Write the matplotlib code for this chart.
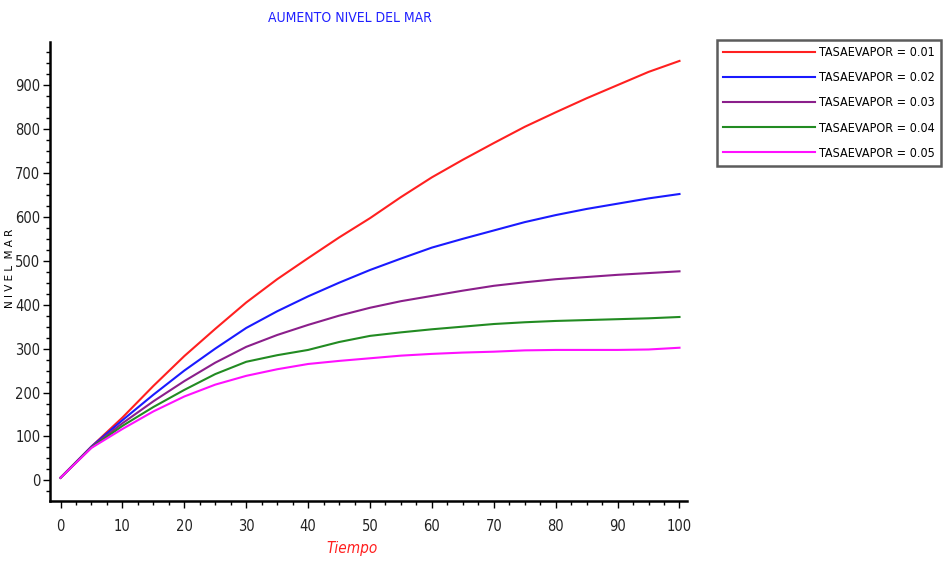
import matplotlib.pyplot as plt
from matplotlib import font_manager
from matplotlib.ticker import MultipleLocator

# tiempo y nivel del mar para cada tasa de evaporacion
tiempo = [0, 5, 10, 15, 20, 25, 30, 35, 40, 45, 50, 55, 60, 65, 70, 75, 80, 85, 90, 95, 100]

nivel_001 = [6, 77, 143, 215, 283, 345, 405, 458, 506, 553, 597, 645, 690, 730, 768, 805, 838, 870, 900, 930, 955]
nivel_002 = [6, 77, 137, 195, 250, 300, 347, 385, 419, 450, 479, 505, 530, 550, 569, 588, 604, 618, 630, 642, 652]
nivel_003 = [6, 76, 130, 180, 226, 268, 304, 331, 354, 375, 393, 408, 420, 432, 443, 451, 458, 463, 468, 472, 476]
nivel_004 = [6, 75, 124, 167, 206, 242, 270, 285, 297, 315, 329, 337, 344, 350, 356, 360, 363, 365, 367, 369, 372]
nivel_005 = [6, 74, 117, 157, 191, 218, 238, 253, 265, 272, 278, 284, 288, 291, 293, 296, 297, 297, 297, 298, 302]

etiquetas = ['TASAEVAPOR = 0.01', 'TASAEVAPOR = 0.02', 'TASAEVAPOR = 0.03',
             'TASAEVAPOR = 0.04', 'TASAEVAPOR = 0.05']
colores = ['#ff2020', '#1a1aff', '#8b1f8b', '#228b22', '#ff10ff']


# buscar una fuente estrecha normal (tipo Arial Narrow)
def buscar(estilo):
    for f in font_manager.fontManager.ttflist:
        narrow = 'Narrow' in f.name or 'condensed' in str(f.stretch)
        if narrow and f.weight in (400, 'normal', 'regular', 'book') and f.style == estilo:
            return f.fname
    return None


f_normal = buscar('normal')
f_italic = buscar('oblique') or buscar('italic') or f_normal


def fp(size, italic=False):
    fname = f_italic if italic else f_normal
    if fname is None:
        return font_manager.FontProperties(family='Liberation Sans', size=size,
                                           style='italic' if italic else 'normal')
    return font_manager.FontProperties(fname=fname, size=size)


fig = plt.figure(figsize=(9.45, 5.62), dpi=100)
ax = fig.add_axes([0.0529, 0.1085, 0.674, 0.8167])

series = [nivel_001, nivel_002, nivel_003, nivel_004, nivel_005]
for y, c, lab in zip(series, colores, etiquetas):
    ax.plot(tiempo, y, color=c, lw=1.5, label=lab)

ax.set_xlim(-1.7, 101.2)
ax.set_ylim(-47, 998)

ax.spines['top'].set_visible(False)
ax.spines['right'].set_visible(False)
ax.spines['left'].set_linewidth(1.8)
ax.spines['bottom'].set_linewidth(1.8)

ax.xaxis.set_major_locator(MultipleLocator(10))
ax.xaxis.set_minor_locator(MultipleLocator(2.5))
ax.yaxis.set_major_locator(MultipleLocator(100))
ax.yaxis.set_minor_locator(MultipleLocator(25))
ax.tick_params(which='major', length=5, width=1, direction='out')
ax.tick_params(axis='x', which='major', pad=8)
ax.tick_params(axis='y', which='major', pad=2)
ax.tick_params(which='minor', length=3, width=1, direction='out')
fig.canvas.draw()
for t in ax.get_xticklabels() + ax.get_yticklabels():
    t.set_fontproperties(fp(10.5))
    t.set_color('#222222')

fig.text(350 / 945, 1 - 18 / 562, 'AUMENTO NIVEL DEL MAR', color='#2020ff',
         ha='center', va='center', fontproperties=fp(10))
fig.text(352 / 945, 1 - 548 / 562, 'Tiempo', color='#ff2020',
         ha='center', va='center', fontproperties=fp(11, italic=True))
fig.text(10 / 945, 1 - 268 / 562, 'N I V E L  M A R', rotation=90,
         ha='center', va='center', fontsize=7.5)

# leyenda: ancho de la caja ~225 px, ajustar la longitud de las lineas
leg_size = 9
ancho_texto = max(
    fig.text(0, 0, s, fontproperties=fp(leg_size)).get_window_extent(fig.canvas.get_renderer()).width
    for s in etiquetas)
for t in fig.texts[3:]:
    t.remove()
em = leg_size * fig.dpi / 72
hl = (222 - ancho_texto - 4 - 2 * 0.4 * em) / em

leg = fig.legend(loc='upper left', bbox_to_anchor=(717 / 945, 1 - 40 / 562),
                 handlelength=hl, handletextpad=0.3, labelspacing=0.97,
                 borderpad=0.5, borderaxespad=0, fancybox=False, frameon=True,
                 prop=fp(leg_size))
leg.get_frame().set_edgecolor('#333333')
leg.get_frame().set_linewidth(1.8)

fig.savefig('out.png', dpi=100)
